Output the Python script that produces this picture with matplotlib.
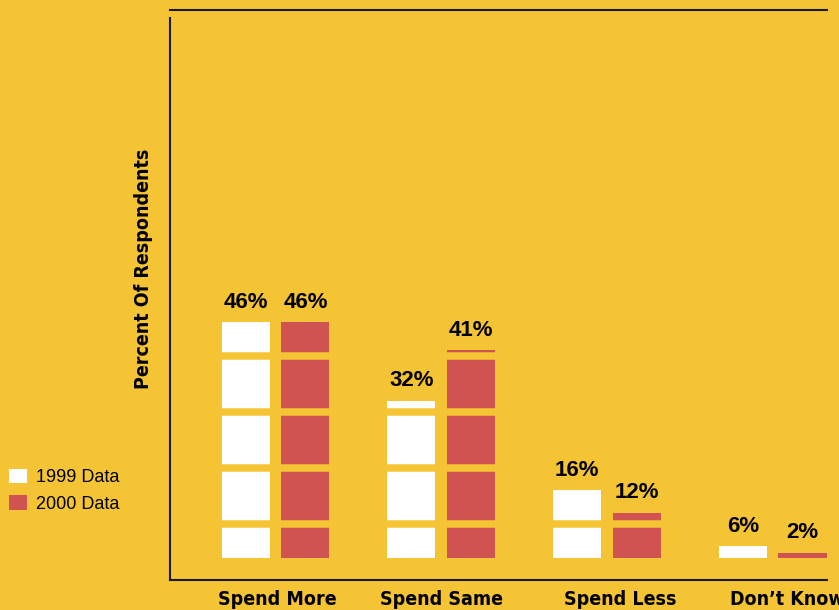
import numpy as np
import matplotlib
matplotlib.use('Agg')
import matplotlib.pyplot as plt
from matplotlib.patches import Patch

# data
categories = ['Spend More', 'Spend Same', 'Spend Less', 'Don\u2019t Know']
data_1999 = [46, 32, 16, 6]
data_2000 = [46, 41, 12, 2]
series_names = ['1999 Data', '2000 Data']

BG = '#F5C434'
RED = '#D05352'
INK = '#1a1a1a'

fig = plt.figure(figsize=(8.39, 6.10), dpi=100, facecolor=BG)
ax = fig.add_axes([170 / 839, 30 / 610, 657 / 839, 570 / 610])
ax.set_facecolor(BG)

x = np.arange(len(categories))
w = 0.29
off = 0.18
base = 3.9  # bars start a little above the axis line

v99 = np.array(data_1999, dtype=float)
v00 = np.array(data_2000, dtype=float)
b1 = ax.bar(x - off, np.maximum(v99 - base, 1.0), w, bottom=base, color='white', zorder=1)
b2 = ax.bar(x + off, np.maximum(v00 - base, 1.0), w, bottom=base, color=RED, zorder=1)

# background-coloured bands at every tick cut the bars into blocks
for t in range(10, 101, 10):
    ax.axhline(t, color=BG, lw=5.4, zorder=2)

for bars, vals in ((b1, data_1999), (b2, data_2000)):
    for rect, v in zip(bars, vals):
        ax.annotate('%d%%' % v, (rect.get_x() + rect.get_width() / 2, rect.get_y() + rect.get_height()),
                    xytext=(0, 7), textcoords='offset points', ha='center', va='bottom',
                    fontsize=16, fontweight='bold', family='Liberation Sans', color='black')

ax.set_xlim(-0.637, 3.328)
ax.set_ylim(0, 101.8)

ax.set_yticks(range(10, 101, 10))
ax.set_yticklabels([])
ax.tick_params(axis='y', direction='in', length=8, width=1.5, color=INK)

label_x = x + np.array([0.01, 0.0, 0.08, 0.09])
ax.set_xticks(label_x)
ax.set_xticklabels(categories, fontsize=14, fontweight='bold', family='DejaVu Sans',
                   fontstretch='condensed')
ax.tick_params(axis='x', length=0, pad=7)

for s in ('left', 'bottom', 'top'):
    ax.spines[s].set_color(INK)
    ax.spines[s].set_linewidth(1.5)
ax.spines['right'].set_visible(False)
ax.spines['left'].set_bounds(0, 100.4)

ax.text(-0.041, 0.546, 'Percent Of Respondents', transform=ax.transAxes, rotation=90,
        ha='center', va='center', fontsize=14, fontweight='bold', family='DejaVu Sans',
        fontstretch='condensed')

handles = [Patch(facecolor='white', edgecolor='none'), Patch(facecolor=RED, edgecolor='none')]
fig.legend(handles, series_names, loc='upper left', bbox_to_anchor=(9 / 839, 1 - 469 / 610),
           frameon=False, prop={'family': 'Liberation Sans', 'size': 13},
           handlelength=1.0, handleheight=0.85, handletextpad=0.5, labelspacing=0.5,
           borderpad=0, borderaxespad=0)

fig.savefig('out.png', dpi=100, facecolor=BG)
